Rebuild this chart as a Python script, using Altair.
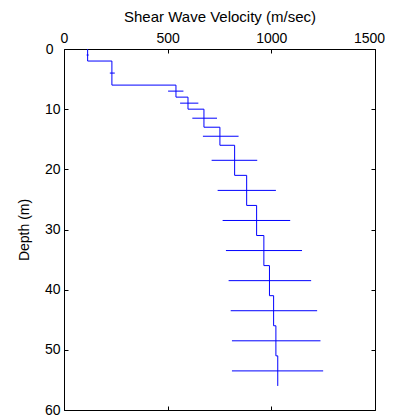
import altair as alt
import pandas as pd

layer_top = [0, 2, 6, 8, 10, 13, 16, 21, 26, 31, 36, 41, 46, 51]
layer_bottom = [2, 6, 8, 10, 13, 16, 21, 26, 31, 36, 41, 46, 51, 56]
velocity = [114, 231, 540, 598, 675, 752, 823, 881, 929, 964, 991, 1011, 1022, 1031]
err_low = [109, 221, 502, 560, 619, 670, 712, 741, 765, 781, 794, 804, 810, 810]
err_high = [119, 245, 576, 648, 738, 842, 932, 1022, 1091, 1148, 1192, 1221, 1237, 1250]
x_ticks = [0, 500, 1000, 1500]
y_ticks = [0, 10, 20, 30, 40, 50, 60]

rows = []
for i, (t, b, v) in enumerate(zip(layer_top, layer_bottom, velocity)):
    rows.append({"idx": 2 * i, "v": v, "d": t})
    rows.append({"idx": 2 * i + 1, "v": v, "d": b})
step_df = pd.DataFrame(rows)

err_df = pd.DataFrame({
    "lo": err_low,
    "hi": err_high,
    "d": [(t + b) / 2 for t, b in zip(layer_top, layer_bottom)],
})

FONT = "Liberation Sans"
xs = alt.Scale(domain=[0, 1500], nice=False, zero=False)
ys = alt.Scale(domain=[0, 60], nice=False, reverse=True)

common = dict(domain=False, grid=False, tickSize=4, offset=-4, tickColor="black",
              labelColor="black", titleColor="black", labelFont=FONT, titleFont=FONT,
              labelFontSize=14, titleFontWeight="normal", labelOverlap=False,
              labelFlush=False, format="d")

step = alt.Chart(step_df).mark_line(color="#0000ff", strokeWidth=1).encode(
    x=alt.X("v:Q", scale=xs, axis=alt.Axis(
        orient="top", values=x_ticks, labelPadding=4,
        labelOffset=alt.condition("datum.value === 1500", alt.value(-6), alt.value(0)),
        title="Shear Wave Velocity (m/sec)", titleFontSize=15,
        titleBaseline="alphabetic", titleY=-32, **common)),
    y=alt.Y("d:Q", scale=ys, axis=alt.Axis(
        orient="left", values=y_ticks,
        labelPadding=alt.condition("datum.value === 0", alt.value(11), alt.value(4)),
        title="Depth (m)", titleFontSize=14, titleBaseline="middle",
        titleX=-43.5, **common)),
    order="idx:Q",
)

errs = alt.Chart(err_df).mark_rule(color="#0000ff", strokeWidth=1).encode(
    x=alt.X("lo:Q", scale=xs, axis=alt.Axis(
        orient="bottom", values=x_ticks, labels=False, title=None, **common)),
    x2="hi:Q",
    y=alt.Y("d:Q", scale=ys, axis=alt.Axis(
        orient="right", values=y_ticks, labels=False, title=None, **common)),
)

chart = alt.layer(step, errs).resolve_axis(x="independent", y="independent").properties(
    width=311, height=361,
    background="white",
    autosize=alt.AutoSizeParams(type="none"),
    padding={"left": 56, "top": 41, "right": 10, "bottom": 8},
).configure_view(stroke="black", strokeWidth=1)

chart.save("out.html", embed_options={"renderer": "svg", "actions": False})
